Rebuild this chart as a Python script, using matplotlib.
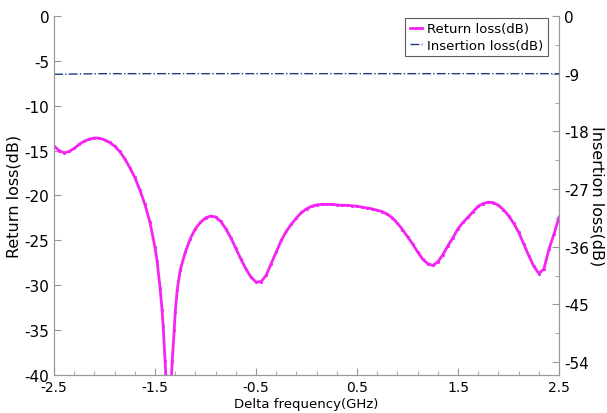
import numpy as np
import matplotlib
matplotlib.use("Agg")
import matplotlib.pyplot as plt
from matplotlib.ticker import FixedLocator, MultipleLocator

plt.rcParams['font.family'] = ['DejaVu Sans']
plt.rcParams['axes.unicode_minus'] = False

# return loss (GHz, dB)
freq_rl = [-2.5, -2.45, -2.4, -2.35, -2.3, -2.25, -2.2, -2.15, -2.1, -2.05,
           -2.0, -1.95, -1.9, -1.85, -1.8, -1.75, -1.7, -1.65, -1.6, -1.55,
           -1.5, -1.48, -1.45, -1.43, -1.42, -1.4, -1.39, -1.37, -1.34, -1.33,
           -1.31, -1.3, -1.28, -1.25, -1.2, -1.15, -1.1, -1.05, -1.0, -0.95,
           -0.9, -0.85, -0.8, -0.75, -0.7, -0.65, -0.6, -0.55, -0.5, -0.45,
           -0.4, -0.35, -0.3, -0.25, -0.2, -0.15, -0.1, -0.05, 0.0, 0.05,
           0.1, 0.15, 0.2, 0.25, 0.3, 0.35, 0.4, 0.45, 0.5, 0.55,
           0.6, 0.65, 0.7, 0.75, 0.8, 0.85, 0.9, 0.95, 1.0, 1.05,
           1.1, 1.15, 1.2, 1.25, 1.3, 1.35, 1.4, 1.45, 1.5, 1.55,
           1.6, 1.65, 1.7, 1.75, 1.8, 1.85, 1.9, 1.95, 2.0, 2.05,
           2.1, 2.15, 2.2, 2.25, 2.3, 2.35, 2.4, 2.45, 2.5]
return_loss = [-14.5, -15.0, -15.25, -15.1, -14.75, -14.3, -13.95, -13.72, -13.6, -13.62,
               -13.8, -14.1, -14.5, -15.1, -15.9, -16.9, -18.0, -19.4, -21.0, -23.0,
               -25.8, -27.3, -30.3, -32.8, -34.5, -38.5, -41.0, -48.0, -41.0, -38.5,
               -35.0, -33.0, -30.5, -28.3, -26.3, -24.8, -23.7, -23.0, -22.5, -22.3,
               -22.4, -22.9, -23.7, -24.7, -25.9, -27.1, -28.2, -29.1, -29.65, -29.6,
               -28.9, -27.6, -26.3, -25.0, -24.0, -23.2, -22.5, -21.9, -21.5, -21.2,
               -21.05, -21.0, -21.0, -21.0, -21.05, -21.1, -21.1, -21.15, -21.2, -21.3,
               -21.4, -21.5, -21.65, -21.8, -22.1, -22.5, -23.1, -23.8, -24.6, -25.4,
               -26.3, -27.1, -27.6, -27.8, -27.4, -26.6, -25.6, -24.7, -23.7, -23.0,
               -22.4, -21.8, -21.2, -20.9, -20.75, -20.8, -21.1, -21.6, -22.25, -23.1,
               -24.1, -25.4, -26.7, -27.9, -28.7, -28.2, -26.0, -24.3, -22.4]

# insertion loss (right axis)
freq_il = [-2.5, -2.25, -2.0, -1.5, -1.0, -0.5, 0.0, 0.5, 1.0, 1.5, 2.0, 2.5]
insertion_loss = [-9.1, -9.05, -9.0, -9.0, -9.0, -9.0, -9.0, -9.0, -9.0, -9.0, -9.0, -9.0]

x_ticks = [-2.5, -1.5, -0.5, 0.5, 1.5, 2.5]

fig = plt.figure(figsize=(6.07, 4.14), dpi=100)
ax = fig.add_axes([0.089, 0.092, 0.832, 0.867])
ax2 = ax.twinx()

rl_line, = ax.plot(freq_rl, return_loss, color='#f524f5', lw=2.0,
                   marker='.', markersize=2.5, label='Return loss(dB)')
il_line, = ax2.plot(freq_il, insertion_loss, color='#1f3f7f', lw=1.0,
                    linestyle='-.', label='Insertion loss(dB)')

ax.set_xlim(-2.5, 2.5)
ax.set_ylim(-40, 0)
ax2.set_ylim(-56, 0)

ax.xaxis.set_major_locator(FixedLocator(x_ticks))
ax.xaxis.set_minor_locator(FixedLocator(np.arange(-2.5, 2.51, 0.2)))
ax.yaxis.set_major_locator(MultipleLocator(5))
ax2.yaxis.set_major_locator(MultipleLocator(9))
ax2.yaxis.set_minor_locator(MultipleLocator(4.5))

spine_col = '#999999'
for a in (ax, ax2):
    a.spines['top'].set_visible(False)
    for s in ('left', 'right', 'bottom'):
        a.spines[s].set_color(spine_col)
    a.tick_params(which='both', direction='in', color=spine_col, labelsize=11)
    a.tick_params(which='major', length=5)
    a.tick_params(which='minor', length=3)
ax.tick_params(axis='x', labelsize=10, pad=4)

ax.set_xlabel('Delta frequency(GHz)', fontsize=9.5, labelpad=2)
ax.set_ylabel('Return loss(dB)', fontsize=11.5, labelpad=2)
ax2.set_ylabel('Insertion loss(dB)', fontsize=11.5, rotation=-90, labelpad=11)

leg = ax.legend(handles=[rl_line, il_line], loc='upper right',
                bbox_to_anchor=(0.978, 0.995), borderaxespad=0,
                fontsize=9.5, frameon=True, fancybox=False,
                handlelength=0.9, borderpad=0.35, labelspacing=0.25,
                handletextpad=0.4)
leg.get_frame().set_edgecolor('#333333')
leg.get_frame().set_linewidth(0.8)

fig.savefig('out.png', dpi=100)
